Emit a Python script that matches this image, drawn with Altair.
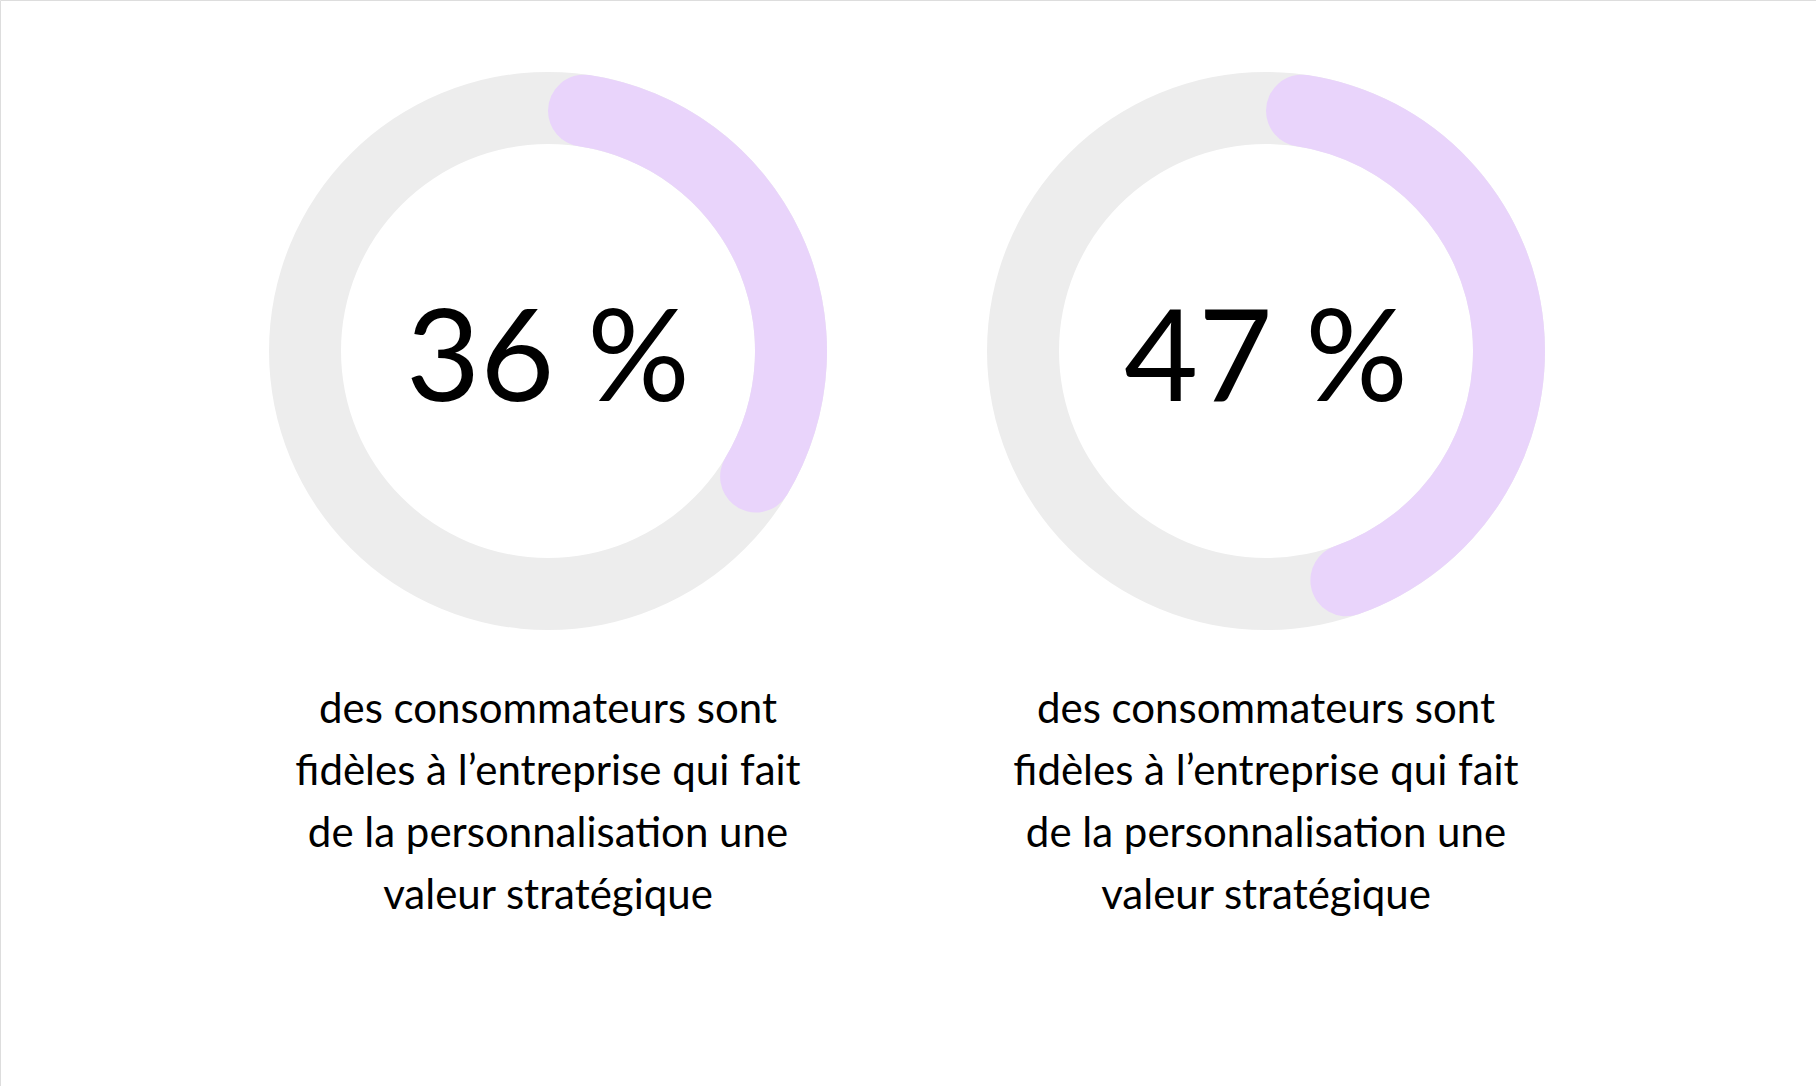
import altair as alt
import pandas as pd

groups = ["A", "B"]
values = [36, 47]
labels = ["36 %", "47 %"]
caption = "des consommateurs sont\nfidèles à l’entreprise qui fait\nde la personnalisation une\nvaleur stratégique"

df = pd.DataFrame({
    "group": groups,
    "value": values,
    "label": labels,
    "caption": [caption, caption],
    "start": [0, 0],
    "full": [100, 100],
})

FONT = "Lato"
xs = alt.X("group:N", scale=alt.Scale(type="point", domain=groups, range=[548, 1266], padding=0), axis=None)
tscale = alt.Scale(domain=[0, 100], range=[0, 6.283185307])

base = alt.Chart(df)

ring = base.mark_arc(radius=279, radius2=207, color="#ededed").encode(
    x=xs,
    y=alt.value(351),
    theta=alt.Theta("start:Q", scale=tscale, stack=False),
    theta2="full:Q",
)

prog = base.mark_arc(radius=279, radius2=207, color="#e9d4fb", cornerRadius=36).encode(
    x=xs,
    y=alt.value(351),
    theta=alt.Theta("start:Q", scale=tscale, stack=False),
    theta2="value:Q",
)

num = base.mark_text(font=FONT, fontSize=128, color="#000000", baseline="alphabetic",
                     align="center").encode(
    x=xs, y=alt.value(401), text="label:N"
)

cap = base.mark_text(font=FONT, fontSize=42, color="#000000", baseline="alphabetic",
                     align="center", lineBreak="\n", lineHeight=62).encode(
    x=xs, y=alt.value(723), text="caption:N"
)

chart = alt.layer(ring, prog, num, cap).properties(
    width=1816, height=1086,
    autosize=alt.AutoSizeParams(type="none"),
    padding=0,
).configure_view(stroke=None).configure(background="#ffffff")

chart.save("out.html", embed_options={"renderer": "svg", "actions": False})
